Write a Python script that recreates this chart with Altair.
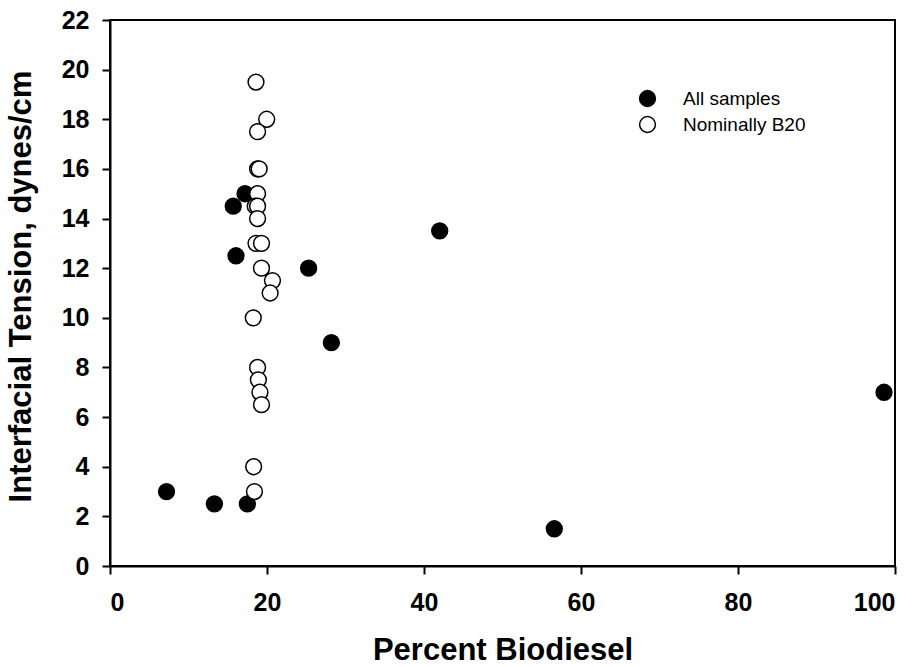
import altair as alt
import pandas as pd

# Data
all_x = [7.2, 13.3, 17.5, 17.2, 15.7, 16.05, 25.3, 28.2, 42.0, 56.6, 98.6]
all_y = [3.0, 2.5, 2.5, 15.0, 14.5, 12.5, 12.0, 9.0, 13.5, 1.5, 7.0]
b20_x = [18.6, 19.96, 18.8, 18.8, 19.0, 18.8, 18.5, 18.8, 18.8, 18.6, 19.3,
         19.3, 20.7, 20.4, 18.25, 18.8, 18.9, 19.1, 19.3, 18.3, 18.4]
b20_y = [19.5, 18.0, 17.5, 16.0, 16.0, 15.0, 14.5, 14.5, 14.0, 13.0, 13.0,
         12.0, 11.5, 11.0, 10.0, 8.0, 7.5, 7.0, 6.5, 4.0, 3.0]
series_names = ["All samples", "Nominally B20"]
x_ticks = [0, 20, 40, 60, 80, 100]
y_ticks = [0, 2, 4, 6, 8, 10, 12, 14, 16, 18, 20, 22]

df = pd.concat([
    pd.DataFrame({"x": all_x, "y": all_y, "series": series_names[0]}),
    pd.DataFrame({"x": b20_x, "y": b20_y, "series": series_names[1]}),
], ignore_index=True)
df["order"] = range(len(df))

FONT = "Liberation Sans"

chart = alt.Chart(df).mark_circle(
    size=250, opacity=1, stroke="black", strokeWidth=1.5
).encode(
    x=alt.X("x:Q", scale=alt.Scale(domain=[0, 100], nice=False, zero=False),
            axis=alt.Axis(title="Percent Biodiesel", values=x_ticks,
                          titleY=93, titleBaseline="alphabetic")),
    y=alt.Y("y:Q", scale=alt.Scale(domain=[0, 22], nice=False),
            axis=alt.Axis(title="Interfacial Tension, dynes/cm", values=y_ticks,
                          titleX=-73, titleY=266)),
    fill=alt.Fill("series:N",
                  scale=alt.Scale(domain=series_names, range=["black", "white"]),
                  legend=alt.Legend(title=None, orient="none", legendX=528, legendY=69,
                                    symbolType="circle", symbolSize=250,
                                    symbolStrokeColor="black", symbolStrokeWidth=1.5,
                                    symbolOpacity=1, labelFont=FONT, labelFontSize=19,
                                    labelColor="black", labelOffset=26, rowPadding=3,
                                    padding=0)),
    order=alt.Order("order:Q"),
).properties(
    width=785, height=546,
    padding={"left": 110, "top": 20, "right": 22, "bottom": 101},
    autosize=alt.AutoSizeParams(type="none"),
    background="white",
).configure_view(
    stroke="black", strokeWidth=2
).configure_axis(
    grid=False, domainColor="black", domainWidth=2, tickColor="black", tickWidth=2,
    tickSize=8, labelFont=FONT, labelFontSize=25, labelFontWeight="bold",
    labelColor="black", titleFont=FONT, titleFontSize=31, titleFontWeight="bold",
    titleColor="black",
).configure_axisX(labelPadding=16).configure_axisY(labelPadding=13)

chart.save("out.html", embed_options={"renderer": "svg", "actions": False})
